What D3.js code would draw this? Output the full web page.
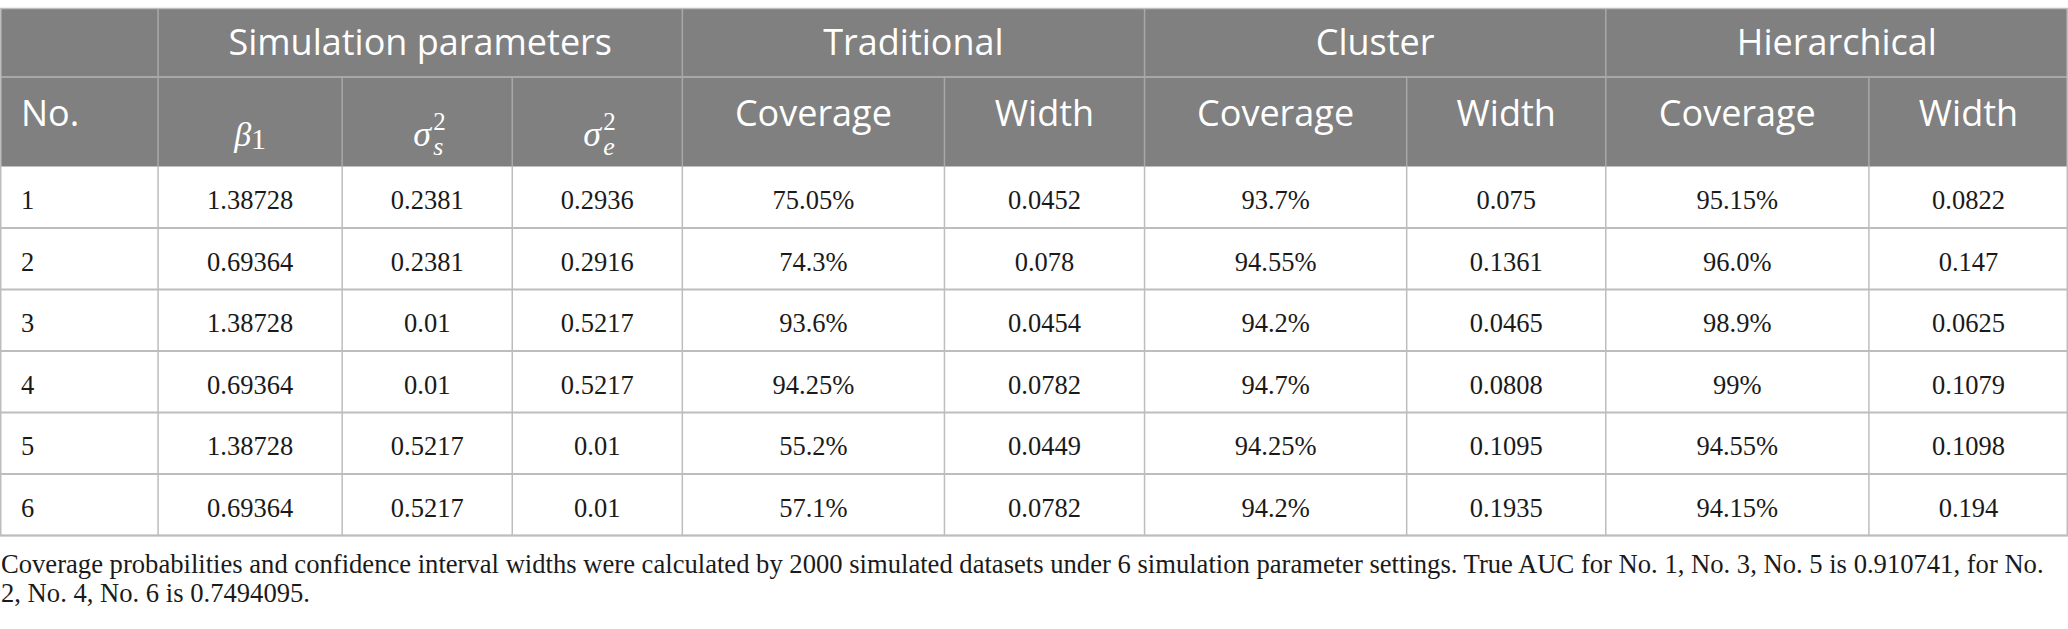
<!DOCTYPE html>
<html>
<head>
<meta charset="utf-8">
<script src="https://cdn.jsdelivr.net/npm/d3@7/dist/d3.min.js"></script>
<style>
  html, body { margin: 0; padding: 0; background: #fff; }
  svg { display: block; }
</style>
</head>
<body>
<div id="table"></div>
<script>
const caseNo = ['1', '2', '3', '4', '5', '6'];
const beta1 = ['1.38728', '0.69364', '1.38728', '0.69364', '1.38728', '0.69364'];
const sigmaS2 = ['0.2381', '0.2381', '0.01', '0.01', '0.5217', '0.5217'];
const sigmaE2 = ['0.2936', '0.2916', '0.5217', '0.5217', '0.01', '0.01'];
const tradCoverage = ['75.05%', '74.3%', '93.6%', '94.25%', '55.2%', '57.1%'];
const tradWidth = ['0.0452', '0.078', '0.0454', '0.0782', '0.0449', '0.0782'];
const clusterCoverage = ['93.7%', '94.55%', '94.2%', '94.7%', '94.25%', '94.2%'];
const clusterWidth = ['0.075', '0.1361', '0.0465', '0.0808', '0.1095', '0.1935'];
const hierCoverage = ['95.15%', '96.0%', '98.9%', '99%', '94.55%', '94.15%'];
const hierWidth = ['0.0822', '0.147', '0.0625', '0.1079', '0.1098', '0.194'];

const groupHeaders = ['', 'Simulation parameters', 'Traditional', 'Cluster', 'Hierarchical'];
const groupSpans = [1, 3, 2, 2, 2];
const subHeaders = ['No.', 'beta1', 'sigmaS', 'sigmaE', 'Coverage', 'Width', 'Coverage', 'Width', 'Coverage', 'Width'];

const footnoteLines = [
  'Coverage probabilities and confidence interval widths were calculated by 2000 simulated datasets under 6 simulation parameter settings. True AUC for No. 1, No. 3, No. 5 is 0.910741, for No.',
  '2, No. 4, No. 6 is 0.7494095.'
];

const columns = [caseNo, beta1, sigmaS2, sigmaE2, tradCoverage, tradWidth,
  clusterCoverage, clusterWidth, hierCoverage, hierWidth];

// ---- layout ----
const W = 2068, H = 629;
const colWidths = [158, 184, 170, 170, 262, 200, 262, 199, 263, 199];
const tableTop = 8.5, head1 = 68.5, head2 = 89.5, rowH = 61.5;
const headBg = '#808080';
const headLine = '#a8a8a8';
const bodyLine = '#bdbdbd';
const textColor = '#1a1a1a';
const sansFont = '"Open Sans", "Noto Sans", sans-serif';
const serifFont = '"Liberation Serif", "DejaVu Serif", serif';

const colEdges = [0];
colWidths.forEach(w => colEdges.push(colEdges[colEdges.length - 1] + w));
const x = d3.scaleLinear().domain([0, colEdges[colEdges.length - 1]]).range([0, W]);
const colX = i => x(colEdges[i]);

const bodyTop = tableTop + head1 + head2;
const bodyBottom = bodyTop + rowH * caseNo.length;
const y = d3.scaleBand().domain(caseNo).range([bodyTop, bodyBottom]);

const svg = d3.select('#table').append('svg')
  .attr('width', W)
  .attr('height', H);

// header background
svg.append('rect')
  .attr('x', 0).attr('y', tableTop)
  .attr('width', W).attr('height', head1 + head2)
  .attr('fill', headBg);

// group header row
let gi = 0;
const groups = groupHeaders.map((label, i) => {
  const g = { label, start: gi, end: gi + groupSpans[i] };
  gi += groupSpans[i];
  return g;
});

svg.selectAll('.group-label')
  .data(groups.filter(g => g.label))
  .enter()
  .append('text')
  .attr('class', 'group-label')
  .attr('x', d => (colX(d.start) + colX(d.end)) / 2)
  .attr('y', tableTop + 46.5)
  .attr('text-anchor', 'middle')
  .style('font-family', sansFont)
  .style('font-size', '36px')
  .style('fill', '#fff')
  .text(d => d.label);

// sub header row
const subY = tableTop + head1 + 48.5;
const mathY = tableTop + head1 + 69;
subHeaders.forEach((label, i) => {
  const cx = (colX(i) + colX(i + 1)) / 2;
  if (label === 'beta1') {
    const t = svg.append('text')
      .attr('x', cx).attr('y', mathY)
      .attr('text-anchor', 'middle')
      .style('font-family', serifFont)
      .style('font-size', '34px')
      .style('fill', '#fff');
    t.append('tspan').style('font-style', 'italic').text('\u03B2');
    t.append('tspan').attr('dy', 3).style('font-size', '30px').text('1');
  } else if (label === 'sigmaS' || label === 'sigmaE') {
    const g = svg.append('g').attr('transform', `translate(${cx - 14},${mathY})`);
    g.append('text')
      .attr('x', 0).attr('y', 0)
      .style('font-family', serifFont)
      .style('font-style', 'italic')
      .style('font-size', '36px')
      .style('fill', '#fff')
      .text('\u03C3');
    g.append('text')
      .attr('x', 20).attr('y', -16)
      .style('font-family', serifFont)
      .style('font-size', '25px')
      .style('fill', '#fff')
      .text('2');
    g.append('text')
      .attr('x', 20).attr('y', 9)
      .style('font-family', serifFont)
      .style('font-style', 'italic')
      .style('font-size', '26px')
      .style('fill', '#fff')
      .text(label === 'sigmaS' ? 's' : 'e');
  } else {
    svg.append('text')
      .attr('x', i === 0 ? 21 : cx)
      .attr('y', subY)
      .attr('text-anchor', i === 0 ? 'start' : 'middle')
      .style('font-family', sansFont)
      .style('font-size', '36px')
      .style('fill', '#fff')
      .text(label);
  }
});

// header grid lines
svg.append('line')
  .attr('x1', 0).attr('x2', W)
  .attr('y1', tableTop + head1).attr('y2', tableTop + head1)
  .attr('stroke', headLine).attr('stroke-width', 2);

svg.selectAll('.group-sep')
  .data(groups.slice(1))
  .enter()
  .append('line')
  .attr('x1', d => colX(d.start)).attr('x2', d => colX(d.start))
  .attr('y1', tableTop).attr('y2', tableTop + head1)
  .attr('stroke', headLine).attr('stroke-width', 1.5);

svg.selectAll('.sub-sep')
  .data(d3.range(1, colWidths.length))
  .enter()
  .append('line')
  .attr('x1', d => colX(d)).attr('x2', d => colX(d))
  .attr('y1', tableTop + head1).attr('y2', bodyTop)
  .attr('stroke', headLine).attr('stroke-width', 1.5);

// body cells
columns.forEach((col, ci) => {
  svg.selectAll(`.cell-${ci}`)
    .data(col.map((v, ri) => ({ v, row: caseNo[ri] })))
    .enter()
    .append('text')
    .attr('class', `cell-${ci}`)
    .attr('x', ci === 0 ? 21 : (colX(ci) + colX(ci + 1)) / 2)
    .attr('y', d => y(d.row) + 42.5)
    .attr('text-anchor', ci === 0 ? 'start' : 'middle')
    .style('font-family', serifFont)
    .style('font-size', '26.5px')
    .style('fill', textColor)
    .text(d => d.v);
});

// body grid lines
svg.selectAll('.row-line')
  .data(caseNo)
  .enter()
  .append('line')
  .attr('x1', 0).attr('x2', W)
  .attr('y1', d => y(d) + y.bandwidth()).attr('y2', d => y(d) + y.bandwidth())
  .attr('stroke', bodyLine).attr('stroke-width', 2);

svg.selectAll('.col-line')
  .data(d3.range(1, colWidths.length))
  .enter()
  .append('line')
  .attr('x1', d => colX(d)).attr('x2', d => colX(d))
  .attr('y1', bodyTop).attr('y2', bodyBottom)
  .attr('stroke', bodyLine).attr('stroke-width', 1.5);

// outer border
svg.append('rect')
  .attr('x', 0.75).attr('y', tableTop)
  .attr('width', W - 1.5).attr('height', bodyBottom - tableTop)
  .attr('fill', 'none')
  .attr('stroke', bodyLine).attr('stroke-width', 1.5);

// footnote, sized so the first line fills the table width
const foot = svg.selectAll('.footnote')
  .data(footnoteLines)
  .enter()
  .append('text')
  .attr('class', 'footnote')
  .attr('x', 1)
  .attr('y', (d, i) => 572.5 + i * 29)
  .style('font-family', serifFont)
  .style('font-size', '100px')
  .style('fill', textColor)
  .text(d => d);

const fullW = foot.node().getComputedTextLength();
const footSize = 100 * 2043 / fullW;
foot.style('font-size', footSize + 'px');
</script>
</body>
</html>
